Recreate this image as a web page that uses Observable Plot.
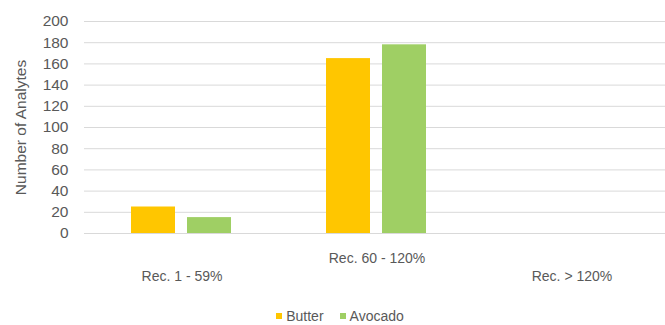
<!DOCTYPE html>
<html>
<head>
<meta charset="utf-8">
<script src="https://cdn.jsdelivr.net/npm/d3@7"></script>
<script src="https://cdn.jsdelivr.net/npm/@observablehq/plot@0.6"></script>
<style>
  html, body { margin: 0; padding: 0; background: #fff; }
  body { width: 665px; height: 325px; overflow: hidden; font-family: "Liberation Sans", Arial, sans-serif; }
  #chart { width: 665px; height: 295px; overflow: hidden; }
  #chart svg { max-width: none !important; }
  #legend { display: flex; justify-content: center; align-items: center; gap: 16px; margin-top: 13px; margin-left: 15px; font-size: 14px; color: #595959; line-height: 16px; }
  #legend .item { display: flex; align-items: center; }
  #legend .sw { width: 6px; height: 6px; margin-right: 4px; }
</style>
</head>
<body>
<div id="chart"></div>
<div id="legend"></div>
<script>
const categories = ["Rec. 1 - 59%", "Rec. 60 - 120%", "Rec. > 120%"];
const series = ["Butter", "Avocado"];
const butter = [25, 165, 0];
const avocado = [15, 178, 0];
const yTicks = [0, 20, 40, 60, 80, 100, 120, 140, 160, 180, 200];
const colors = ["#ffc600", "#9fcf64"];

const data = [];
categories.forEach((c, i) => {
  data.push({category: c, series: "Butter", value: butter[i]});
  data.push({category: c, series: "Avocado", value: avocado[i]});
});

const textColor = "#595959";

const chart = Plot.plot({
  width: 670,
  height: 295,
  marginTop: 21,
  marginBottom: 62,
  marginLeft: 83,
  marginRight: 0,
  style: {fontFamily: "'Liberation Sans', Arial, sans-serif", fontSize: "14px", color: textColor, background: "transparent", maxWidth: "none"},
  fx: {domain: categories, axis: null, padding: 0},
  x: {domain: series, axis: null, paddingInner: 0.21, paddingOuter: 0.845},
  y: {domain: [0, 200]},
  color: {domain: series, range: colors},
  marks: [
    Plot.gridY(yTicks, {stroke: "#d9d9d9", strokeOpacity: 1, strokeWidth: 1}),
    Plot.axisY(yTicks, {tickSize: 0, tickPadding: 16, fontSize: 15.5, fill: textColor,
      label: "Number of Analytes", labelAnchor: "center", labelArrow: "none", labelOffset: 70}),
    Plot.barY(data.filter(d => d.value > 0), {fx: "category", x: "series", y: "value", fill: "series"}),
    Plot.text(categories.filter((c, i) => i !== 1), {fx: d => d, text: d => d, frameAnchor: "bottom", dy: 47, fontSize: 14, fill: textColor}),
    Plot.text(categories.filter((c, i) => i === 1), {fx: d => d, text: d => d, frameAnchor: "bottom", dy: 29, fontSize: 14, fill: textColor})
  ]
});
document.getElementById("chart").appendChild(chart);

const legend = document.getElementById("legend");
series.forEach((s, i) => {
  const item = document.createElement("span");
  item.className = "item";
  const sw = document.createElement("span");
  sw.className = "sw";
  sw.style.background = colors[i];
  item.appendChild(sw);
  item.appendChild(document.createTextNode(s));
  legend.appendChild(item);
});
</script>
</body>
</html>
